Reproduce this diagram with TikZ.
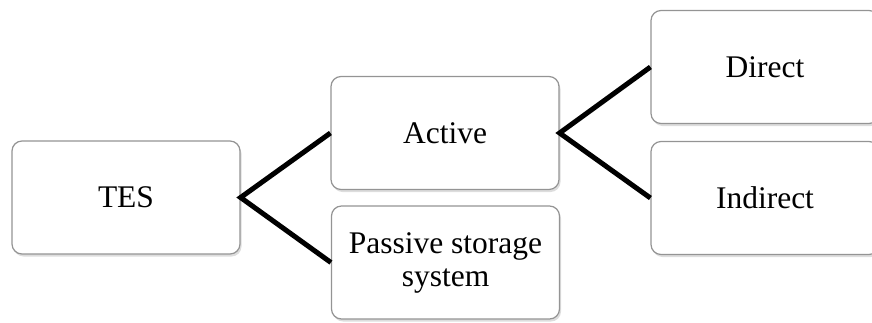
\documentclass[tikz,border=0pt]{standalone}
\usepackage{fontspec}
\setmainfont{Liberation Serif}
\usetikzlibrary{shadows}
\begin{document}
\begin{tikzpicture}[x=1pt,y=-1pt,
  box/.style={draw=black!42, line width=1.2pt, fill=white, rounded corners=10pt,
    minimum width=228pt, minimum height=113pt, inner sep=0pt, align=center,
    font=\fontsize{31.5}{33}\selectfont,
    drop shadow={shadow xshift=1.5pt, shadow yshift=-2.5pt, opacity=0.22, fill=black!60}},
  link/.style={line width=5pt, black}]
\useasboundingbox (0,0) rectangle (872,322);
\clip (0,0) rectangle (872,322);
% tree nodes
\node[box] (tes) at (126,197.5) {TES};
\node[box] (active) at (445,133) {Active};
\node[box] (passive) at (445.5,262.5) {Passive storage\\system};
\node[box] (direct) at (765,67) {Direct};
\node[box] (indirect) at (765,198) {Indirect};
% branch connectors
\draw[link] (active.west) -- (tes.east) -- (passive.west);
\draw[link] (direct.west) -- (active.east) -- (indirect.west);
\end{tikzpicture}
\end{document}
